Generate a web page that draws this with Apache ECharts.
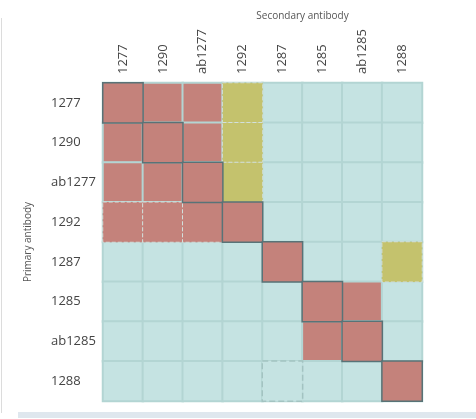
<!DOCTYPE html>
<html>
<head>
<meta charset="utf-8">
<script src="https://cdn.jsdelivr.net/npm/echarts@6/dist/echarts.min.js"></script>
<style>
  html, body { margin: 0; padding: 0; background: #fff; }
  #main { width: 476px; height: 419px; }
</style>
</head>
<body>
<div id="main"></div>
<script>
// antibody names, same order on both axes
const secondary = ['1277', '1290', 'ab1277', '1292', '1287', '1285', 'ab1285', '1288'];
const primary = ['1277', '1290', 'ab1277', '1292', '1287', '1285', 'ab1285', '1288'];

// reaction per row (primary) / column (secondary): 0 none, 1 positive, 2 partial
const reaction = [
  [1, 1, 1, 2, 0, 0, 0, 0],
  [1, 1, 1, 2, 0, 0, 0, 0],
  [1, 1, 1, 2, 0, 0, 0, 0],
  [1, 1, 1, 1, 0, 0, 0, 0],
  [0, 0, 0, 0, 1, 0, 0, 2],
  [0, 0, 0, 0, 0, 1, 1, 0],
  [0, 0, 0, 0, 0, 1, 1, 0],
  [0, 0, 0, 0, 0, 0, 0, 1]
];

// outline: 0 none, 1 solid (same pair), 2 dashed
const outline = [
  [1, 0, 0, 2, 0, 0, 0, 0],
  [0, 1, 0, 2, 0, 0, 0, 0],
  [0, 0, 1, 2, 0, 0, 0, 0],
  [2, 2, 2, 1, 0, 0, 0, 0],
  [0, 0, 0, 0, 1, 0, 0, 2],
  [0, 0, 0, 0, 0, 1, 0, 0],
  [0, 0, 0, 0, 0, 0, 1, 0],
  [0, 0, 0, 0, 2, 0, 0, 1]
];

const fillColors = ['#c5e3e2', '#c4827b', '#c4c26d'];
const gapColor = '#b3d5d3';

const base = [];
const solid = [];
const dashed = [];
primary.forEach((p, r) => {
  secondary.forEach((s, c) => {
    const v = reaction[r][c];
    const fill = fillColors[v];
    base.push({ value: [c, r, v], itemStyle: { color: fill } });
    if (outline[r][c] === 1) {
      solid.push({ value: [c, r, v], itemStyle: { color: fill } });
    } else if (outline[r][c] === 2) {
      dashed.push({
        value: [c, r, v],
        itemStyle: {
          color: fill,
          borderColor: v === 0 ? '#a3c3c1' : '#d2e0dc',
          borderType: 'dashed',
          borderWidth: v === 0 ? 1.5 : 1
        }
      });
    }
  });
});

const chart = echarts.init(document.getElementById('main'));
chart.setOption({
  animation: false,
  textStyle: { fontFamily: 'Open Sans' },
  grid: { left: 103, right: 54, top: 83, bottom: 18 },
  xAxis: {
    type: 'category',
    position: 'top',
    data: secondary,
    name: 'Secondary antibody',
    nameLocation: 'middle',
    nameGap: 61,
    nameTextStyle: { fontSize: 10, color: '#555', padding: [0, 0, 0, 80] },
    axisLine: { show: false },
    axisTick: { show: false },
    splitLine: { show: false },
    axisLabel: { rotate: -90, fontSize: 13, color: '#444', margin: 9 }
  },
  yAxis: {
    type: 'category',
    inverse: true,
    data: primary,
    name: 'Primary antibody',
    nameLocation: 'middle',
    nameGap: 70,
    nameTextStyle: { fontSize: 10, color: '#555' },
    axisLine: { show: false },
    axisTick: { show: false },
    splitLine: { show: false },
    axisLabel: { fontSize: 13, color: '#444', align: 'left', margin: 52 }
  },
  series: [
    {
      type: 'heatmap',
      data: base,
      itemStyle: { borderColor: gapColor, borderWidth: 2 }
    },
    {
      type: 'heatmap',
      data: dashed,
      itemStyle: { borderColor: gapColor, borderWidth: 1 }
    },
    {
      type: 'heatmap',
      data: solid,
      itemStyle: { borderColor: '#587377', borderWidth: 1.5 }
    }
  ],
  graphic: [
    {
      type: 'line',
      shape: { x1: 1.5, y1: 18, x2: 1.5, y2: 413 },
      style: { stroke: '#dcdcdc', lineWidth: 1 }
    },
    {
      type: 'rect',
      shape: { x: 18, y: 412, width: 458, height: 6 },
      style: { fill: '#dfe7ee' }
    }
  ]
});
</script>
</body>
</html>
